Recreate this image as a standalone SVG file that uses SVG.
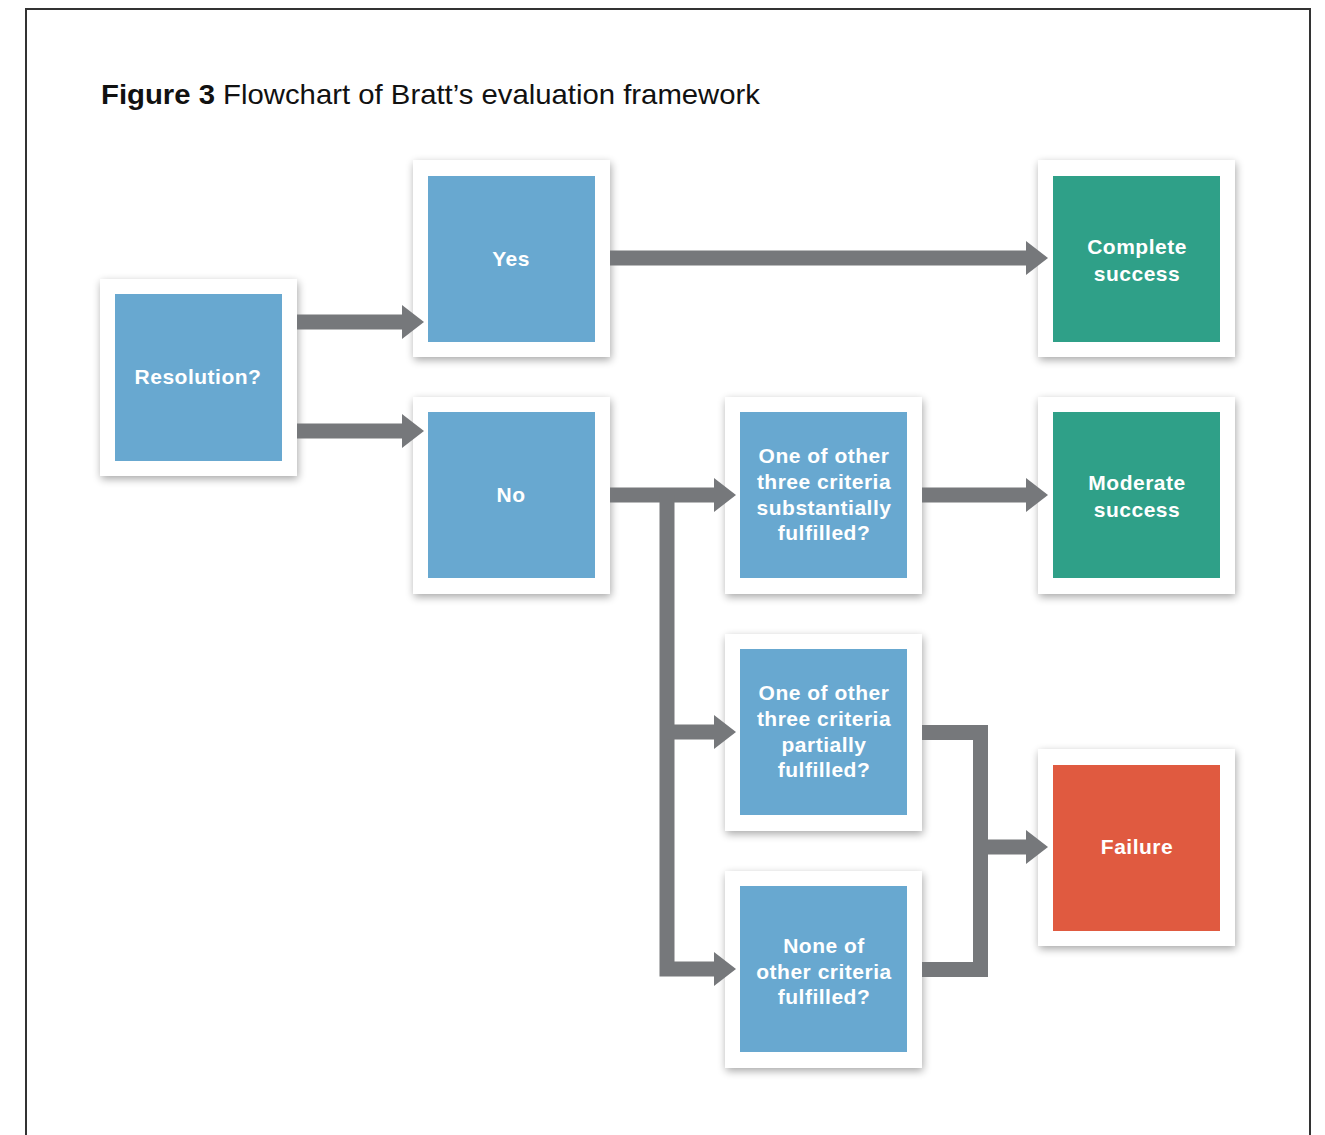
<svg xmlns="http://www.w3.org/2000/svg" width="1325" height="1135" viewBox="0 0 1325 1135">
<defs>
<filter id="sh" x="-20%" y="-20%" width="140%" height="140%">
<feGaussianBlur in="SourceAlpha" stdDeviation="4"/>
<feOffset dx="1" dy="3"/>
<feComponentTransfer><feFuncA type="linear" slope="0.35"/></feComponentTransfer>
<feMerge><feMergeNode/><feMergeNode in="SourceGraphic"/></feMerge>
</filter>
<marker id="ah" markerUnits="userSpaceOnUse" markerWidth="24" markerHeight="34" refX="0" refY="17" orient="auto" viewBox="0 0 24 34">
<path d="M0,0 L22,17 L0,34 Z" fill="#76787b"/>
</marker>
</defs>
<style>
.frame{fill:none;stroke:#333;stroke-width:2}
.outer{fill:#fff;filter:url(#sh)}
.blue{fill:#68a8d0}
.green{fill:#2fa088}
.red{fill:#e05a40}
.lbl{font-family:"Liberation Sans",Arial,sans-serif;font-weight:bold;font-size:21px;fill:#fff;text-anchor:middle;letter-spacing:0.5px}
.title{font-family:"Liberation Sans",Arial,sans-serif;font-size:28px;fill:#111}
.c{fill:none;stroke:#76787b;stroke-width:15}
</style>
<rect width="1325" height="1135" fill="#fff"/>
<path class="frame" d="M26,1135 V9 H1310 V1135"/>
<text class="title" x="101" y="104" textLength="659" lengthAdjust="spacingAndGlyphs"><tspan font-weight="bold">Figure 3</tspan> Flowchart of Bratt’s evaluation framework</text>

<g id="resolution">
<rect class="outer" x="100" y="279" width="197" height="197"/>
<rect class="blue" x="115" y="294" width="167" height="167"/>
<text class="lbl" x="198" y="384">Resolution?</text>
</g>
<g id="yes">
<rect class="outer" x="413" y="160" width="197" height="197"/>
<rect class="blue" x="428" y="176" width="167" height="166"/>
<text class="lbl" x="511" y="266">Yes</text>
</g>
<g id="no">
<rect class="outer" x="413" y="397" width="197" height="197"/>
<rect class="blue" x="428" y="412" width="167" height="166"/>
<text class="lbl" x="511" y="502">No</text>
</g>
<g id="complete-success">
<rect class="outer" x="1038" y="160" width="197" height="197"/>
<rect class="green" x="1053" y="176" width="167" height="166"/>
<text class="lbl" x="1137" y="254">Complete</text>
<text class="lbl" x="1137" y="281">success</text>
</g>
<g id="substantially">
<rect class="outer" x="725" y="397" width="197" height="197"/>
<rect class="blue" x="740" y="412" width="167" height="166"/>
<text class="lbl" x="824" y="463">One of other</text>
<text class="lbl" x="824" y="489">three criteria</text>
<text class="lbl" x="824" y="515">substantially</text>
<text class="lbl" x="824" y="540">fulfilled?</text>
</g>
<g id="moderate-success">
<rect class="outer" x="1038" y="397" width="197" height="197"/>
<rect class="green" x="1053" y="412" width="167" height="166"/>
<text class="lbl" x="1137" y="490">Moderate</text>
<text class="lbl" x="1137" y="517">success</text>
</g>
<g id="partially">
<rect class="outer" x="725" y="634" width="197" height="197"/>
<rect class="blue" x="740" y="649" width="167" height="166"/>
<text class="lbl" x="824" y="700">One of other</text>
<text class="lbl" x="824" y="726">three criteria</text>
<text class="lbl" x="824" y="752">partially</text>
<text class="lbl" x="824" y="777">fulfilled?</text>
</g>
<g id="none">
<rect class="outer" x="725" y="871" width="197" height="197"/>
<rect class="blue" x="740" y="886" width="167" height="166"/>
<text class="lbl" x="824" y="953">None of</text>
<text class="lbl" x="824" y="979">other criteria</text>
<text class="lbl" x="824" y="1004">fulfilled?</text>
</g>
<g id="failure">
<rect class="outer" x="1038" y="749" width="197" height="197"/>
<rect class="red" x="1053" y="765" width="167" height="166"/>
<text class="lbl" x="1137" y="854">Failure</text>
</g>

<g id="connectors">
<path class="c" d="M297,322 H402" marker-end="url(#ah)"/>
<path class="c" d="M297,431 H402" marker-end="url(#ah)"/>
<path class="c" d="M610,258 H1026" marker-end="url(#ah)"/>
<path class="c" d="M610,495 H714" marker-end="url(#ah)"/>
<path class="c" d="M667,495 V969 H714" marker-end="url(#ah)"/>
<path class="c" d="M667,732 H714" marker-end="url(#ah)"/>
<path class="c" d="M922,495 H1026" marker-end="url(#ah)"/>
<path class="c" d="M922,732.5 H980.5 V969.5 H922"/>
<path class="c" d="M980,847 H1026" marker-end="url(#ah)"/>
</g>
</svg>
